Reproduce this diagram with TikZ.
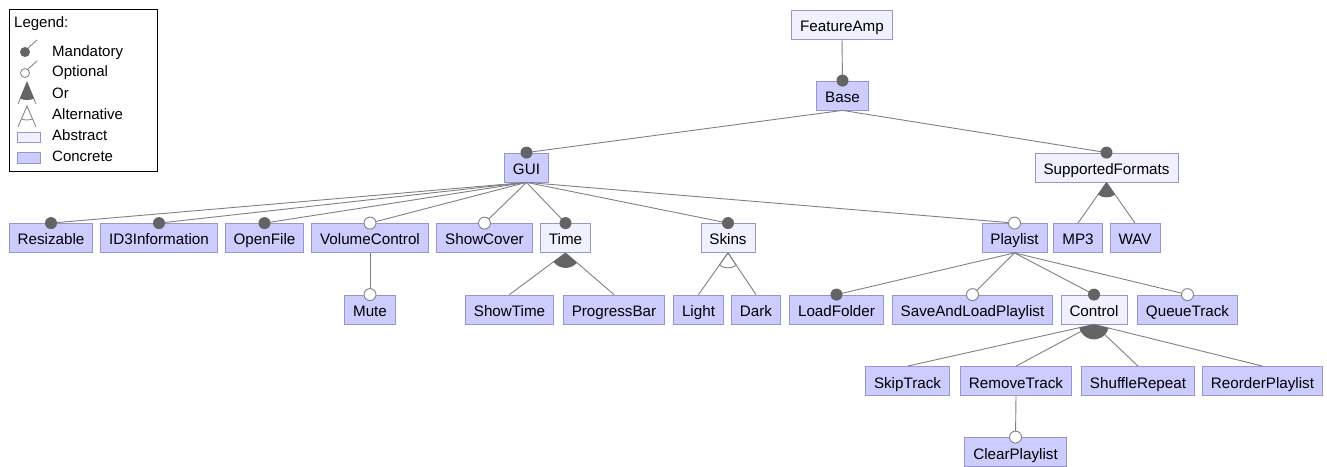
\documentclass[tikz,border=0pt]{standalone}
\usepackage{fontspec}
\setmainfont{Liberation Sans}
\usetikzlibrary{calc}

\definecolor{concfill}{RGB}{204,204,255}
\definecolor{concdraw}{RGB}{150,150,205}
\definecolor{absfill}{RGB}{240,240,255}
\definecolor{edgegray}{RGB}{128,128,128}
\definecolor{dotgray}{RGB}{100,100,100}

\tikzset{
  feat/.style={draw=concdraw, line width=0.8pt, minimum height=29pt, text height=14pt, text depth=0pt,
    inner xsep=8.5pt, inner ysep=0pt, font=\fontsize{15.2}{18}\selectfont},
  concrete/.style={feat, fill=concfill},
  abstract/.style={feat, fill=absfill},
  edge/.style={edgegray, line width=0.9pt},
  mand/.style={fill=dotgray},
  opt/.style={fill=white, draw=edgegray, line width=0.9pt},
  legtext/.style={anchor=base west, inner sep=0pt, font=\fontsize{15}{18}\selectfont}
}

% group marker below a parent: #1 style, #2 parent, #3 first child, #4 last child
\newcommand{\featgroup}[4]{%
  \path[#1] let \p0=(#2.south), \p1=(#3.north), \p2=(#4.north),
    \n1={atan2(\y1-\y0,\x1-\x0)}, \n2={atan2(\y2-\y0,\x2-\x0)} in
    (\p0) -- ++(\n1:15pt) arc[start angle=\n1, end angle=\n2, radius=15pt] -- cycle;}

\begin{document}
\begin{tikzpicture}[x=1pt, y=1pt]

\useasboundingbox (0,0) rectangle (1327,466);

% legend
\draw[black, line width=1pt] (9,456) rectangle (157,294);
\node[legtext] (legend) at (14,438) {Legend:};
\node[legtext] (lmand) at (52,409.5) {Mandatory};
\node[legtext] (lopt) at (52,389) {Optional};
\node[legtext] (lor) at (52,367.5) {Or};
\node[legtext] (lalt) at (52,346) {Alternative};
\node[legtext] (labs) at (52,325) {Abstract};
\node[legtext] (lconc) at (52,304) {Concrete};

\draw[edgegray, line width=0.8pt] (28,418) -- (37,426);
\fill[dotgray] (25,414) circle (5pt);
\draw[edgegray, line width=0.8pt] (28,397) -- (37,405);
\filldraw[fill=white, draw=edgegray, line width=0.8pt] (25,393) circle (4.5pt);
\draw[edgegray, line width=0.8pt] (18,362) -- (27,384) -- (36,362);
\fill[dotgray] (27,384) -- ++(-113:18pt) arc[start angle=-113, end angle=-67, radius=18pt] -- cycle;
\draw[edgegray, line width=0.8pt] (18,339) -- (27,360) -- (36,339);
\draw[edgegray, line width=0.8pt] ($(27,360)+(-113:14pt)$) arc[start angle=-113, end angle=-67, radius=14pt];
\draw[concdraw, fill=absfill, line width=0.8pt] (17,334) rectangle (40,324);
\draw[concdraw, fill=concfill, line width=0.8pt] (17,314) rectangle (40,303);

% features
\node[abstract] (FeatureAmp) at (842,441.5) {FeatureAmp};
\node[concrete] (Base) at (842.5,370.5) {Base};
\node[concrete] (GUI) at (526.5,298.5) {GUI};
\node[abstract] (SupportedFormats) at (1106.5,298.5) {SupportedFormats};

\node[concrete] (Resizable) at (51,228) {Resizable};
\node[concrete] (ID3Information) at (159,228) {ID3Information};
\node[concrete] (OpenFile) at (264.5,228) {OpenFile};
\node[concrete] (VolumeControl) at (370,228) {VolumeControl};
\node[concrete] (ShowCover) at (484.5,228) {ShowCover};
\node[abstract] (Time) at (565.5,228) {Time};
\node[abstract] (Skins) at (728,228) {Skins};
\node[concrete] (Playlist) at (1014.5,228) {Playlist};
\node[concrete] (MP3) at (1078,228) {MP3};
\node[concrete] (WAV) at (1135,228) {WAV};

\node[concrete] (Mute) at (370,156.5) {Mute};
\node[concrete] (ShowTime) at (509.5,156.5) {ShowTime};
\node[concrete] (ProgressBar) at (614,156.5) {ProgressBar};
\node[concrete] (Light) at (698.5,156.5) {Light};
\node[concrete] (Dark) at (756,156.5) {Dark};
\node[concrete] (LoadFolder) at (836.5,156.5) {LoadFolder};
\node[concrete] (SaveAndLoadPlaylist) at (972.5,156.5) {SaveAndLoadPlaylist};
\node[abstract] (Control) at (1094,156.5) {Control};
\node[concrete] (QueueTrack) at (1187.5,156.5) {QueueTrack};

\node[concrete] (SkipTrack) at (907.5,85) {SkipTrack};
\node[concrete] (RemoveTrack) at (1016,85) {RemoveTrack};
\node[concrete] (ShuffleRepeat) at (1138,85) {ShuffleRepeat};
\node[concrete] (ReorderPlaylist) at (1262.5,85) {ReorderPlaylist};

\node[concrete] (ClearPlaylist) at (1015.5,14) {ClearPlaylist};

% edges with mandatory / optional dots
\foreach \p/\c/\t in {FeatureAmp/Base/mand, Base/GUI/mand, Base/SupportedFormats/mand,
    GUI/Resizable/mand, GUI/ID3Information/mand, GUI/OpenFile/mand, GUI/VolumeControl/opt,
    GUI/ShowCover/opt, GUI/Time/mand, GUI/Skins/mand, GUI/Playlist/opt,
    VolumeControl/Mute/opt, Playlist/LoadFolder/mand, Playlist/SaveAndLoadPlaylist/opt,
    Playlist/Control/mand, Playlist/QueueTrack/opt, RemoveTrack/ClearPlaylist/opt}
  \draw[edge] (\p.south) -- (\c.north);
\foreach \p/\c/\t in {FeatureAmp/Base/mand, Base/GUI/mand, Base/SupportedFormats/mand,
    GUI/Resizable/mand, GUI/ID3Information/mand, GUI/OpenFile/mand, GUI/VolumeControl/opt,
    GUI/ShowCover/opt, GUI/Time/mand, GUI/Skins/mand, GUI/Playlist/opt,
    VolumeControl/Mute/opt, Playlist/LoadFolder/mand, Playlist/SaveAndLoadPlaylist/opt,
    Playlist/Control/mand, Playlist/QueueTrack/opt, RemoveTrack/ClearPlaylist/opt}
  \path[\t] (\c.north) circle (6pt);

% group edges
\foreach \p/\c in {Time/ShowTime, Time/ProgressBar, Skins/Light, Skins/Dark,
    SupportedFormats/MP3, SupportedFormats/WAV, Control/SkipTrack, Control/RemoveTrack,
    Control/ShuffleRepeat, Control/ReorderPlaylist}
  \draw[edge] (\p.south) -- (\c.north);

\featgroup{fill=dotgray}{Time}{ShowTime}{ProgressBar}
\featgroup{draw=edgegray, line width=0.9pt}{Skins}{Light}{Dark}
\featgroup{fill=dotgray}{SupportedFormats}{MP3}{WAV}
\featgroup{fill=dotgray}{Control}{SkipTrack}{ReorderPlaylist}

\end{tikzpicture}
\end{document}
